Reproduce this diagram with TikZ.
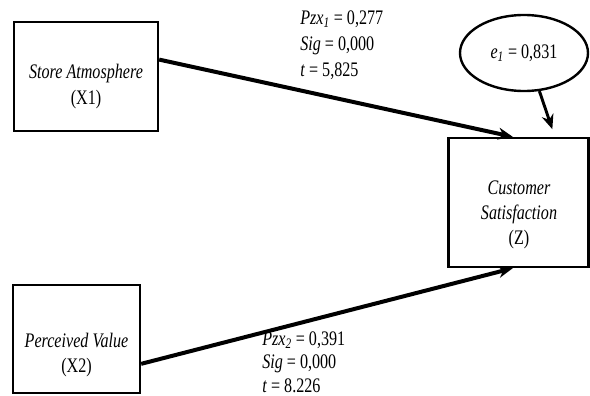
\documentclass[tikz,border=0pt]{standalone}
\usepackage{fontspec}
\setmainfont{Liberation Serif}[FakeStretch=0.78]
\usetikzlibrary{arrows.meta,shapes.geometric}

\tikzset{
  varbox/.style={draw, line width=1.8pt, inner sep=0pt},
  vartext/.style={align=center, inner sep=0pt},
  path/.style={-{Stealth[length=11pt,width=9pt]}, line width=3pt},
  coef/.style={align=left, anchor=west, inner sep=0pt}
}

\begin{document}
\begin{tikzpicture}[x=0.75pt, y=-0.75pt, font=\fontsize{15.5}{19}\selectfont]
  \useasboundingbox (0,0) rectangle (590,396);

  % Exogenous variables
  \node[varbox, minimum width=144*0.75pt, minimum height=109*0.75pt] (x1) at (86,76.5) {};
  \node[vartext] (x1txt) at (86,86.5) {\textit{Store Atmosphere}\\(X1)};
  \node[varbox, minimum width=127*0.75pt, minimum height=108*0.75pt] (x2) at (76.5,339) {};
  \node[vartext] (x2txt) at (76.5,355) {\textit{Perceived Value}\\(X2)};

  % Endogenous variable and its error term
  \node[varbox, minimum width=140*0.75pt, minimum height=129*0.75pt] (z) at (518.5,202.5) {};
  \node[vartext] (ztxt) at (519,215) {\textit{Customer}\\\textit{Satisfaction}\\(Z)};
  \node[draw, ellipse, line width=1.8pt, minimum width=128*0.75pt, minimum height=76*0.75pt] (e1) at (524,53)
    {\textit{e\textsubscript{1}} = 0,831};

  % Paths
  \draw[path] (x1.13) -- (z.95);
  \draw[path] (x2.-21) -- (z.265);
  \draw[path, line width=2.2pt, shorten >=6pt] (e1.-68) -- (z.61);

  % Coefficients
  \node[coef, font=\fontsize{15.5}{19.5}\selectfont] (lbla) at (300,45) {\textit{Pzx\textsubscript{1}} = 0,277\\\textit{Sig} = 0,000\\\textit{t} = 5,825};
  \node[coef, font=\fontsize{15.5}{17.5}\selectfont] (lblb) at (262,362) {\textit{Pzx\textsubscript{2}} = 0,391\\\textit{Sig} = 0,000\\\textit{t} = 8.226};
\end{tikzpicture}
\end{document}
